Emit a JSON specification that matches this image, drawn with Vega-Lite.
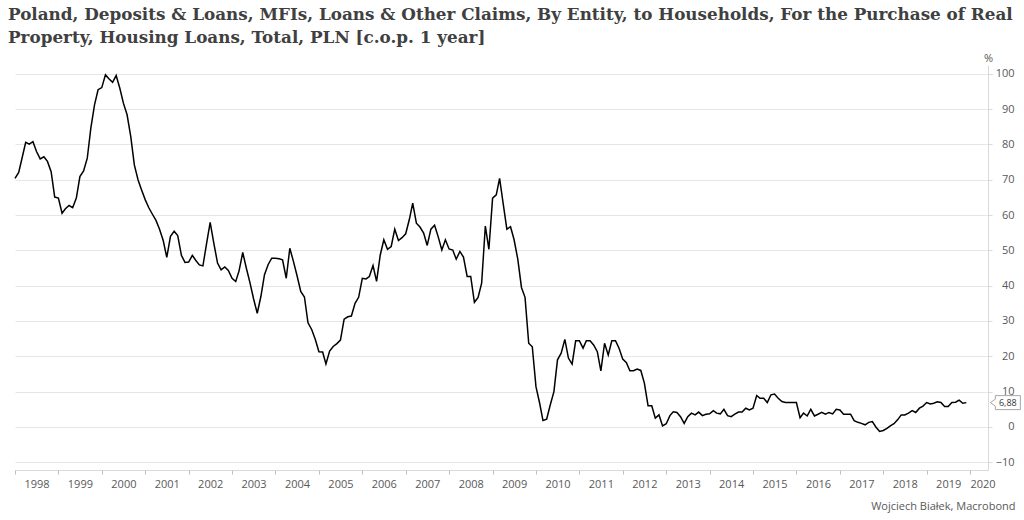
{
  "$schema": "https://vega.github.io/schema/vega-lite/v6.json",
  "width": 973,
  "height": 405,
  "autosize": "none",
  "padding": {"left": 15, "top": 65, "right": 36, "bottom": 50},
  "background": "#ffffff",
  "config": {
    "view": {"stroke": null},
    "locale": {"number": {"decimal": ",", "thousands": " ", "grouping": [3], "currency": ["", " zł"]}}
  },
  "title": {
    "text": ["Poland, Deposits & Loans, MFIs, Loans & Other Claims, By Entity, to Households, For the Purchase of Real", "Property, Housing Loans, Total, PLN [c.o.p. 1 year]"],
    "anchor": "start",
    "frame": "group",
    "font": "DejaVu Serif",
    "fontSize": 16.8,
    "fontWeight": "bold",
    "color": "#404040",
    "lineHeight": 23,
    "offset": 14,
    "dx": -7,
    "dy": 9
  },
  "data": {"values": [
    {"d":"1998-01-01","v":70.4},{"d":"1998-02-01","v":72.1},{"d":"1998-03-01","v":76.1},{"d":"1998-04-01","v":80.6},{"d":"1998-05-01","v":80.1},{"d":"1998-06-01","v":80.8},{"d":"1998-07-01","v":78},{"d":"1998-08-01","v":75.9},{"d":"1998-09-01","v":76.5},{"d":"1998-10-01","v":75.2},{"d":"1998-11-01","v":72.3},{"d":"1998-12-01","v":65.1},
    {"d":"1999-01-01","v":64.8},{"d":"1999-02-01","v":60.5},{"d":"1999-03-01","v":61.8},{"d":"1999-04-01","v":62.7},{"d":"1999-05-01","v":62.1},{"d":"1999-06-01","v":64.8},{"d":"1999-07-01","v":70.9},{"d":"1999-08-01","v":72.5},{"d":"1999-09-01","v":76.1},{"d":"1999-10-01","v":84.6},{"d":"1999-11-01","v":91.2},{"d":"1999-12-01","v":95.5},
    {"d":"2000-01-01","v":96.1},{"d":"2000-02-01","v":99.7},{"d":"2000-03-01","v":98.6},{"d":"2000-04-01","v":97.6},{"d":"2000-05-01","v":99.5},{"d":"2000-06-01","v":95.9},{"d":"2000-07-01","v":91.7},{"d":"2000-08-01","v":88.4},{"d":"2000-09-01","v":82.2},{"d":"2000-10-01","v":74.2},{"d":"2000-11-01","v":70},{"d":"2000-12-01","v":67.1},
    {"d":"2001-01-01","v":64.3},{"d":"2001-02-01","v":62},{"d":"2001-03-01","v":60.3},{"d":"2001-04-01","v":58.5},{"d":"2001-05-01","v":56},{"d":"2001-06-01","v":52.8},{"d":"2001-07-01","v":48},{"d":"2001-08-01","v":54},{"d":"2001-09-01","v":55.4},{"d":"2001-10-01","v":54.2},{"d":"2001-11-01","v":48.6},{"d":"2001-12-01","v":46.6},
    {"d":"2002-01-01","v":46.7},{"d":"2002-02-01","v":48.6},{"d":"2002-03-01","v":47.2},{"d":"2002-04-01","v":45.9},{"d":"2002-05-01","v":45.6},{"d":"2002-06-01","v":52},{"d":"2002-07-01","v":57.9},{"d":"2002-08-01","v":52},{"d":"2002-09-01","v":46.4},{"d":"2002-10-01","v":44.5},{"d":"2002-11-01","v":45.3},{"d":"2002-12-01","v":44.3},
    {"d":"2003-01-01","v":42.1},{"d":"2003-02-01","v":41.2},{"d":"2003-03-01","v":44.2},{"d":"2003-04-01","v":49.4},{"d":"2003-05-01","v":45},{"d":"2003-06-01","v":40.8},{"d":"2003-07-01","v":36.3},{"d":"2003-08-01","v":32.2},{"d":"2003-09-01","v":37},{"d":"2003-10-01","v":43.1},{"d":"2003-11-01","v":46},{"d":"2003-12-01","v":47.8},
    {"d":"2004-01-01","v":47.8},{"d":"2004-02-01","v":47.6},{"d":"2004-03-01","v":47.3},{"d":"2004-04-01","v":42.1},{"d":"2004-05-01","v":50.6},{"d":"2004-06-01","v":46.8},{"d":"2004-07-01","v":42.8},{"d":"2004-08-01","v":38.4},{"d":"2004-09-01","v":36.8},{"d":"2004-10-01","v":29.5},{"d":"2004-11-01","v":27.6},{"d":"2004-12-01","v":24.8},
    {"d":"2005-01-01","v":21.3},{"d":"2005-02-01","v":21.2},{"d":"2005-03-01","v":17.8},{"d":"2005-04-01","v":21.5},{"d":"2005-05-01","v":22.8},{"d":"2005-06-01","v":23.6},{"d":"2005-07-01","v":24.6},{"d":"2005-08-01","v":30.5},{"d":"2005-09-01","v":31.2},{"d":"2005-10-01","v":31.4},{"d":"2005-11-01","v":35},{"d":"2005-12-01","v":36.7},
    {"d":"2006-01-01","v":42.1},{"d":"2006-02-01","v":41.9},{"d":"2006-03-01","v":42.6},{"d":"2006-04-01","v":45.7},{"d":"2006-05-01","v":41.2},{"d":"2006-06-01","v":48.7},{"d":"2006-07-01","v":53},{"d":"2006-08-01","v":50.3},{"d":"2006-09-01","v":51.1},{"d":"2006-10-01","v":56},{"d":"2006-11-01","v":52.8},{"d":"2006-12-01","v":53.6},
    {"d":"2007-01-01","v":54.7},{"d":"2007-02-01","v":58.8},{"d":"2007-03-01","v":63.4},{"d":"2007-04-01","v":57.7},{"d":"2007-05-01","v":56.6},{"d":"2007-06-01","v":54.9},{"d":"2007-07-01","v":51.4},{"d":"2007-08-01","v":56},{"d":"2007-09-01","v":57.1},{"d":"2007-10-01","v":53.9},{"d":"2007-11-01","v":50.1},{"d":"2007-12-01","v":53},
    {"d":"2008-01-01","v":50.4},{"d":"2008-02-01","v":50.1},{"d":"2008-03-01","v":47.5},{"d":"2008-04-01","v":49.7},{"d":"2008-05-01","v":48.1},{"d":"2008-06-01","v":42.6},{"d":"2008-07-01","v":42.6},{"d":"2008-08-01","v":35.3},{"d":"2008-09-01","v":36.7},{"d":"2008-10-01","v":40.7},{"d":"2008-11-01","v":56.9},{"d":"2008-12-01","v":50.3},
    {"d":"2009-01-01","v":64.8},{"d":"2009-02-01","v":65.7},{"d":"2009-03-01","v":70.4},{"d":"2009-04-01","v":63},{"d":"2009-05-01","v":56},{"d":"2009-06-01","v":56.7},{"d":"2009-07-01","v":53},{"d":"2009-08-01","v":47.5},{"d":"2009-09-01","v":39.5},{"d":"2009-10-01","v":36.7},{"d":"2009-11-01","v":23.7},{"d":"2009-12-01","v":22.7},
    {"d":"2010-01-01","v":11.4},{"d":"2010-02-01","v":6.7},{"d":"2010-03-01","v":1.8},{"d":"2010-04-01","v":2.2},{"d":"2010-05-01","v":6.2},{"d":"2010-06-01","v":10},{"d":"2010-07-01","v":19},{"d":"2010-08-01","v":20.9},{"d":"2010-09-01","v":24.8},{"d":"2010-10-01","v":19.5},{"d":"2010-11-01","v":17.8},{"d":"2010-12-01","v":24.4},
    {"d":"2011-01-01","v":24.4},{"d":"2011-02-01","v":22.3},{"d":"2011-03-01","v":24.4},{"d":"2011-04-01","v":24.4},{"d":"2011-05-01","v":23.2},{"d":"2011-06-01","v":21.3},{"d":"2011-07-01","v":15.9},{"d":"2011-08-01","v":23.7},{"d":"2011-09-01","v":20.4},{"d":"2011-10-01","v":24.4},{"d":"2011-11-01","v":24.4},{"d":"2011-12-01","v":22.3},
    {"d":"2012-01-01","v":19.2},{"d":"2012-02-01","v":18.2},{"d":"2012-03-01","v":15.9},{"d":"2012-04-01","v":15.9},{"d":"2012-05-01","v":16.4},{"d":"2012-06-01","v":16},{"d":"2012-07-01","v":12.4},{"d":"2012-08-01","v":6},{"d":"2012-09-01","v":6},{"d":"2012-10-01","v":2.5},{"d":"2012-11-01","v":3.4},{"d":"2012-12-01","v":0.3},
    {"d":"2013-01-01","v":0.9},{"d":"2013-02-01","v":3.2},{"d":"2013-03-01","v":4.3},{"d":"2013-04-01","v":4.1},{"d":"2013-05-01","v":2.9},{"d":"2013-06-01","v":1},{"d":"2013-07-01","v":2.9},{"d":"2013-08-01","v":3.9},{"d":"2013-09-01","v":3.4},{"d":"2013-10-01","v":4.2},{"d":"2013-11-01","v":3.2},{"d":"2013-12-01","v":3.6},
    {"d":"2014-01-01","v":3.7},{"d":"2014-02-01","v":4.6},{"d":"2014-03-01","v":3.9},{"d":"2014-04-01","v":3.7},{"d":"2014-05-01","v":5},{"d":"2014-06-01","v":3.2},{"d":"2014-07-01","v":2.9},{"d":"2014-08-01","v":3.6},{"d":"2014-09-01","v":4.2},{"d":"2014-10-01","v":4.2},{"d":"2014-11-01","v":5.3},{"d":"2014-12-01","v":4.8},
    {"d":"2015-01-01","v":5.3},{"d":"2015-02-01","v":8.9},{"d":"2015-03-01","v":8.1},{"d":"2015-04-01","v":8.1},{"d":"2015-05-01","v":6.9},{"d":"2015-06-01","v":9.1},{"d":"2015-07-01","v":9.3},{"d":"2015-08-01","v":8.1},{"d":"2015-09-01","v":7.2},{"d":"2015-10-01","v":6.9},{"d":"2015-11-01","v":6.9},{"d":"2015-12-01","v":6.9},
    {"d":"2016-01-01","v":6.9},{"d":"2016-02-01","v":2.6},{"d":"2016-03-01","v":3.9},{"d":"2016-04-01","v":3.1},{"d":"2016-05-01","v":5},{"d":"2016-06-01","v":3.1},{"d":"2016-07-01","v":3.6},{"d":"2016-08-01","v":4.1},{"d":"2016-09-01","v":3.6},{"d":"2016-10-01","v":4.1},{"d":"2016-11-01","v":3.7},{"d":"2016-12-01","v":5},
    {"d":"2017-01-01","v":4.8},{"d":"2017-02-01","v":3.6},{"d":"2017-03-01","v":3.6},{"d":"2017-04-01","v":3.6},{"d":"2017-05-01","v":1.8},{"d":"2017-06-01","v":1.3},{"d":"2017-07-01","v":1},{"d":"2017-08-01","v":0.6},{"d":"2017-09-01","v":1.3},{"d":"2017-10-01","v":1.5},{"d":"2017-11-01","v":-0.1},{"d":"2017-12-01","v":-1.3},
    {"d":"2018-01-01","v":-1},{"d":"2018-02-01","v":-0.4},{"d":"2018-03-01","v":0.3},{"d":"2018-04-01","v":0.9},{"d":"2018-05-01","v":2},{"d":"2018-06-01","v":3.4},{"d":"2018-07-01","v":3.4},{"d":"2018-08-01","v":3.9},{"d":"2018-09-01","v":4.6},{"d":"2018-10-01","v":4.1},{"d":"2018-11-01","v":5.3},{"d":"2018-12-01","v":5.9},
    {"d":"2019-01-01","v":6.9},{"d":"2019-02-01","v":6.5},{"d":"2019-03-01","v":6.7},{"d":"2019-04-01","v":7.1},{"d":"2019-05-01","v":6.9},{"d":"2019-06-01","v":5.8},{"d":"2019-07-01","v":5.8},{"d":"2019-08-01","v":6.9},{"d":"2019-09-01","v":7},{"d":"2019-10-01","v":7.6},{"d":"2019-11-01","v":6.7},{"d":"2019-12-01","v":6.88}
  ]},
  "resolve": {"axis": {"x": "independent", "y": "independent"}},
  "layer": [
    {
      "mark": {"type": "line", "color": "#000000", "strokeWidth": 1.5},
      "encoding": {
        "x": {
          "field": "d", "type": "temporal",
          "scale": {"domain": ["1998-01-01", "2020-05-31"], "nice": false},
          "axis": {
            "orient": "bottom",
            "values": [
              {"year":1998,"month":7,"date":1},{"year":1999,"month":7,"date":1},{"year":2000,"month":7,"date":1},{"year":2001,"month":7,"date":1},{"year":2002,"month":7,"date":1},{"year":2003,"month":7,"date":1},{"year":2004,"month":7,"date":1},{"year":2005,"month":7,"date":1},{"year":2006,"month":7,"date":1},{"year":2007,"month":7,"date":1},{"year":2008,"month":7,"date":1},{"year":2009,"month":7,"date":1},{"year":2010,"month":7,"date":1},{"year":2011,"month":7,"date":1},{"year":2012,"month":7,"date":1},{"year":2013,"month":7,"date":1},{"year":2014,"month":7,"date":1},{"year":2015,"month":7,"date":1},{"year":2016,"month":7,"date":1},{"year":2017,"month":7,"date":1},{"year":2018,"month":7,"date":1},{"year":2019,"month":7,"date":1},{"year":2020,"month":4,"date":15}
            ],
            "format": "%Y",
            "ticks": false,
            "tickSize": 0,
            "domain": true,
            "domainColor": "#d9d9d9",
            "domainWidth": 1,
            "grid": false,
            "labelAlign": "center",
            "labelBaseline": "top",
            "labelPadding": 8,
            "labelFont": "Open Sans",
            "labelFontSize": 11,
            "labelColor": "#595959",
            "labelFlush": false,
            "labelOverlap": false,
            "labelBound": false,
            "title": "Wojciech Białek, Macrobond",
            "titleX": 1000,
            "titleY": 39,
            "titleAlign": "right",
            "titleBaseline": "alphabetic",
            "titleFont": "Open Sans",
            "titleFontSize": 11,
            "titleFontWeight": "normal",
            "titleColor": "#595959"
          }
        },
        "y": {
          "field": "v", "type": "quantitative",
          "scale": {"domain": [-12.2, 102.5], "nice": false, "zero": false},
          "axis": {
            "orient": "right",
            "values": [-10, 0, 10, 20, 30, 40, 50, 60, 70, 80, 90, 100],
            "grid": true,
            "gridColor": "#e6e6e6",
            "gridWidth": 1,
            "domain": true,
            "domainColor": "#d9d9d9",
            "ticks": true,
            "tickColor": "#d9d9d9",
            "tickSize": 4,
            "labelAlign": "right",
            "labelBaseline": "middle",
            "labelPadding": 22,
            "labelOverlap": false,
            "labelBound": false,
            "labelFlush": false,
            "labelFont": "Open Sans",
            "labelFontSize": 11,
            "labelColor": "#595959",
            "title": "%",
            "titleAngle": 0,
            "titleX": 0,
            "titleY": -4,
            "titleAlign": "center",
            "titleBaseline": "alphabetic",
            "titleFont": "Open Sans",
            "titleFontSize": 11,
            "titleFontWeight": "normal",
            "titleColor": "#595959"
          }
        }
      }
    },
    {
      "mark": {"type": "point", "opacity": 0},
      "encoding": {
        "x": {
          "field": "d", "type": "temporal",
          "axis": {
            "orient": "bottom",
            "values": [
              {"year":1998,"month":1,"date":1},{"year":1999,"month":1,"date":1},{"year":2000,"month":1,"date":1},{"year":2001,"month":1,"date":1},{"year":2002,"month":1,"date":1},{"year":2003,"month":1,"date":1},{"year":2004,"month":1,"date":1},{"year":2005,"month":1,"date":1},{"year":2006,"month":1,"date":1},{"year":2007,"month":1,"date":1},{"year":2008,"month":1,"date":1},{"year":2009,"month":1,"date":1},{"year":2010,"month":1,"date":1},{"year":2011,"month":1,"date":1},{"year":2012,"month":1,"date":1},{"year":2013,"month":1,"date":1},{"year":2014,"month":1,"date":1},{"year":2015,"month":1,"date":1},{"year":2016,"month":1,"date":1},{"year":2017,"month":1,"date":1},{"year":2018,"month":1,"date":1},{"year":2019,"month":1,"date":1},{"year":2020,"month":1,"date":1}
            ],
            "labels": false,
            "ticks": true,
            "tickSize": 4,
            "tickColor": "#bfbfbf",
            "domain": false,
            "grid": false,
            "title": null
          }
        },
        "y": {"field": "v", "type": "quantitative", "axis": null}
      }
    },
    {
      "transform": [{"filter": "datum.v == 6.88"}],
      "mark": {
        "type": "point",
        "shape": "M 2.4 0 L 2.9 -0.35 L 2.9 -0.7 L 5.4 -0.7 L 5.4 0.7 L 2.9 0.7 L 2.9 0.35 Z",
        "size": 400,
        "filled": true,
        "fill": "#ffffff",
        "stroke": "#a6a6a6",
        "strokeWidth": 1,
        "opacity": 1
      },
      "encoding": {
        "x": {"field": "d", "type": "temporal", "axis": null},
        "y": {"field": "v", "type": "quantitative", "axis": null}
      }
    },
    {
      "transform": [{"filter": "datum.v == 6.88"}],
      "mark": {"type": "text", "dx": 41.5, "font": "Open Sans", "fontSize": 9, "color": "#333333", "align": "center", "baseline": "middle"},
      "encoding": {
        "x": {"field": "d", "type": "temporal", "axis": null},
        "y": {"field": "v", "type": "quantitative", "axis": null},
        "text": {"field": "v", "type": "quantitative", "format": ".2f"}
      }
    }
  ]
}
